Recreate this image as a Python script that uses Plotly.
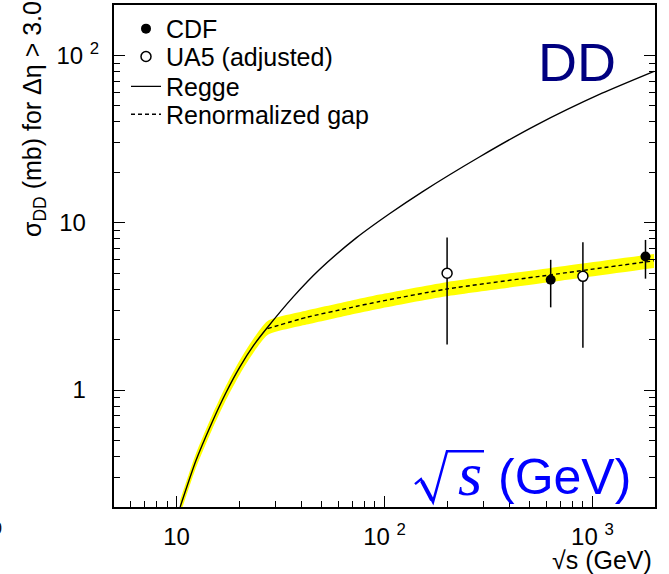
import plotly.graph_objects as go

# ---------------- data ----------------
# Regge prediction (solid line)
regge_x = [10.4, 12.38, 14.77, 17.25, 20.13, 23.5, 27.4, 36.2, 48.7, 73.4, 105.7, 152, 286, 537, 1113, 1978]
regge_y = [0.2, 0.378, 0.636, 0.96, 1.37, 1.853, 2.371, 3.578, 5.25, 8.14, 11.31, 15.3, 24.7, 38.3, 59.4, 80.3]

# Renormalized gap (dashed line, above the knee)
gap_x = [27.4, 42.2, 68, 94.6, 198, 630, 1978]
gap_y = [2.33, 2.72, 3.10, 3.38, 4.01, 4.88, 5.92]

# Yellow uncertainty band
band_x = [10.4, 12.38, 14.77, 17.25, 20.13, 23.5, 27.4, 42.2, 68, 94.6, 198, 630, 1978]
band_hi = [0.22, 0.416, 0.70, 1.056, 1.507, 2.04, 2.59, 2.99, 3.41, 3.72, 4.41, 5.37, 6.51]
band_lo = [0.181, 0.342, 0.576, 0.869, 1.24, 1.68, 2.13, 2.46, 2.81, 3.06, 3.63, 4.42, 5.36]

# CDF points
cdf_x = [630, 1800]
cdf_y = [4.56, 6.28]
cdf_lo = [3.12, 4.63]
cdf_hi = [6.00, 7.89]

# UA5 (adjusted) points
ua5_x = [200, 900]
ua5_y = [4.99, 4.78]
ua5_lo = [1.87, 1.79]
ua5_hi = [8.15, 7.64]

x_tickvals = [10, 100, 1000]
x_ticktext = ["10", "10\u00a0<sup>2</sup>", "10\u00a0<sup>3</sup>"]
y_tickvals = [1, 10, 100]
y_ticktext = ["1\u00a0\u00a0", "10\u00a0\u00a0", "10\u00a0<sup>2</sup>"]

# ---------------- layout geometry ----------------
W, H = 669, 574
L, R, T, B = 114, 655, 3, 507
FONT = "Liberation Sans, Arial, Helvetica, sans-serif"


def px(x):
    return (x - L) / (R - L)


def py(y):
    return (B - y) / (B - T)


fig = go.Figure()

# band
fig.add_trace(go.Scatter(x=band_x, y=band_hi, mode="lines",
                         line=dict(width=0, color="yellow", shape="spline", smoothing=0.6),
                         showlegend=False, hoverinfo="skip"))
fig.add_trace(go.Scatter(x=band_x, y=band_lo, mode="lines",
                         line=dict(width=0, color="yellow", shape="spline", smoothing=0.6),
                         fill="tonexty", fillcolor="#ffff00", showlegend=False, hoverinfo="skip"))

# Regge line
fig.add_trace(go.Scatter(x=regge_x, y=regge_y, mode="lines", name="Regge", legend="legend3",
                         line=dict(color="black", width=1.4, shape="spline", smoothing=0.6)))
# Renormalized gap dashed
fig.add_trace(go.Scatter(x=gap_x, y=gap_y, mode="lines", name="Renormalized gap", legend="legend4",
                         line=dict(color="black", width=1.4, dash="4px,3px", shape="spline", smoothing=0.6)))

# data points
fig.add_trace(go.Scatter(
    x=cdf_x, y=cdf_y, mode="markers", name="CDF", legend="legend",
    marker=dict(symbol="circle", size=10, color="black"),
    error_y=dict(type="data", symmetric=False,
                 array=[h - v for h, v in zip(cdf_hi, cdf_y)],
                 arrayminus=[v - l for v, l in zip(cdf_y, cdf_lo)],
                 width=0, thickness=1.5, color="black"),
))
fig.add_trace(go.Scatter(
    x=ua5_x, y=ua5_y, mode="markers", name="UA5 (adjusted)", legend="legend2",
    marker=dict(symbol="circle", size=10, color="white", line=dict(color="black", width=1.5)),
    error_y=dict(type="data", symmetric=False,
                 array=[h - v for h, v in zip(ua5_hi, ua5_y)],
                 arrayminus=[v - l for v, l in zip(ua5_y, ua5_lo)],
                 width=0, thickness=1.5, color="black"),
))

fig.update_xaxes(type="log", range=[0.69897, 3.30103],
                 tickvals=x_tickvals, ticktext=x_ticktext,
                 ticks="inside", ticklen=11, tickwidth=1.3, tickcolor="black",
                 minor=dict(ticks="inside", ticklen=6, tickwidth=1.2, tickcolor="black", dtick="D1", showgrid=False),
                 showline=True, linewidth=2, linecolor="black", mirror=True,
                 showgrid=False, zeroline=False,
                 tickfont=dict(family=FONT, size=24, color="black"), ticklabelstandoff=7)
fig.update_yaxes(type="log", range=[-0.69897, 2.30103],
                 tickvals=y_tickvals, ticktext=y_ticktext,
                 ticks="inside", ticklen=11, tickwidth=1.3, tickcolor="black",
                 minor=dict(ticks="inside", ticklen=6, tickwidth=1.2, tickcolor="black", dtick="D1", showgrid=False),
                 showline=True, linewidth=2, linecolor="black", mirror="ticks",
                 showgrid=False, zeroline=False,
                 tickfont=dict(family=FONT, size=24, color="black"), ticklabelstandoff=8)

annotations = [
    # y-axis title aligned to the top
    dict(text="σ<sub>DD</sub> (mb) for Δη > 3.0", textangle=-90, xref="paper", yref="paper",
         x=px(34), y=py(-3), xanchor="center", yanchor="top", showarrow=False,
         font=dict(family=FONT, size=25, color="black")),
    # x-axis title at the bottom right
    dict(text="√s (GeV)", xref="paper", yref="paper", x=px(654), y=py(576),
         xanchor="right", yanchor="bottom", showarrow=False,
         font=dict(family=FONT, size=25, color="black")),
    # DD
    dict(text="DD", xref="paper", yref="paper", x=px(577), y=py(60),
         xanchor="center", yanchor="middle", showarrow=False,
         font=dict(family=FONT, size=54, color="#000080")),
    # blue sqrt(s) (GeV)
    dict(text="(GeV)", xref="paper", yref="paper", x=px(633), y=py(477),
         xanchor="right", yanchor="middle", showarrow=False,
         font=dict(family=FONT, size=50, color="#0000ff")),
    dict(text="<i>s</i>", xref="paper", yref="paper", x=px(470), y=py(474),
         xanchor="center", yanchor="middle", showarrow=False,
         font=dict(family="Liberation Serif, Times New Roman, serif", size=62, color="#0000ff")),
    # stray clipped label at far left
    dict(text="0", xref="paper", yref="paper", x=px(4), y=py(529),
         xanchor="right", yanchor="middle", showarrow=False,
         font=dict(family=FONT, size=16, color="black")),
]

shapes = [
    dict(type="path", xref="paper", yref="paper",
         path="M {} {} L {} {} L {} {} L {} {} L {} {}".format(
             px(415), py(484), px(421), py(479), px(433), py(502), px(447), py(451), px(484), py(451)),
         line=dict(color="#0000ff", width=2.5)),
    dict(type="line", xref="paper", yref="paper", x0=px(422), y0=py(481), x1=px(432), y1=py(500),
         line=dict(color="#0000ff", width=4)),
]


def leg(center_y):
    return dict(x=px(126), y=py(center_y), xanchor="left", yanchor="middle",
                bgcolor="rgba(0,0,0,0)", font=dict(family=FONT, size=25, color="black"),
                itemwidth=30, borderwidth=0)


fig.update_layout(
    width=W, height=H,
    margin=dict(l=L, r=W - R, t=T, b=H - B, pad=0),
    paper_bgcolor="white", plot_bgcolor="white",
    font=dict(family=FONT, color="black"),
    legend=leg(27), legend2=leg(55), legend3=leg(85), legend4=leg(113),
    annotations=annotations, shapes=shapes,
)

fig.write_html("out.html")
